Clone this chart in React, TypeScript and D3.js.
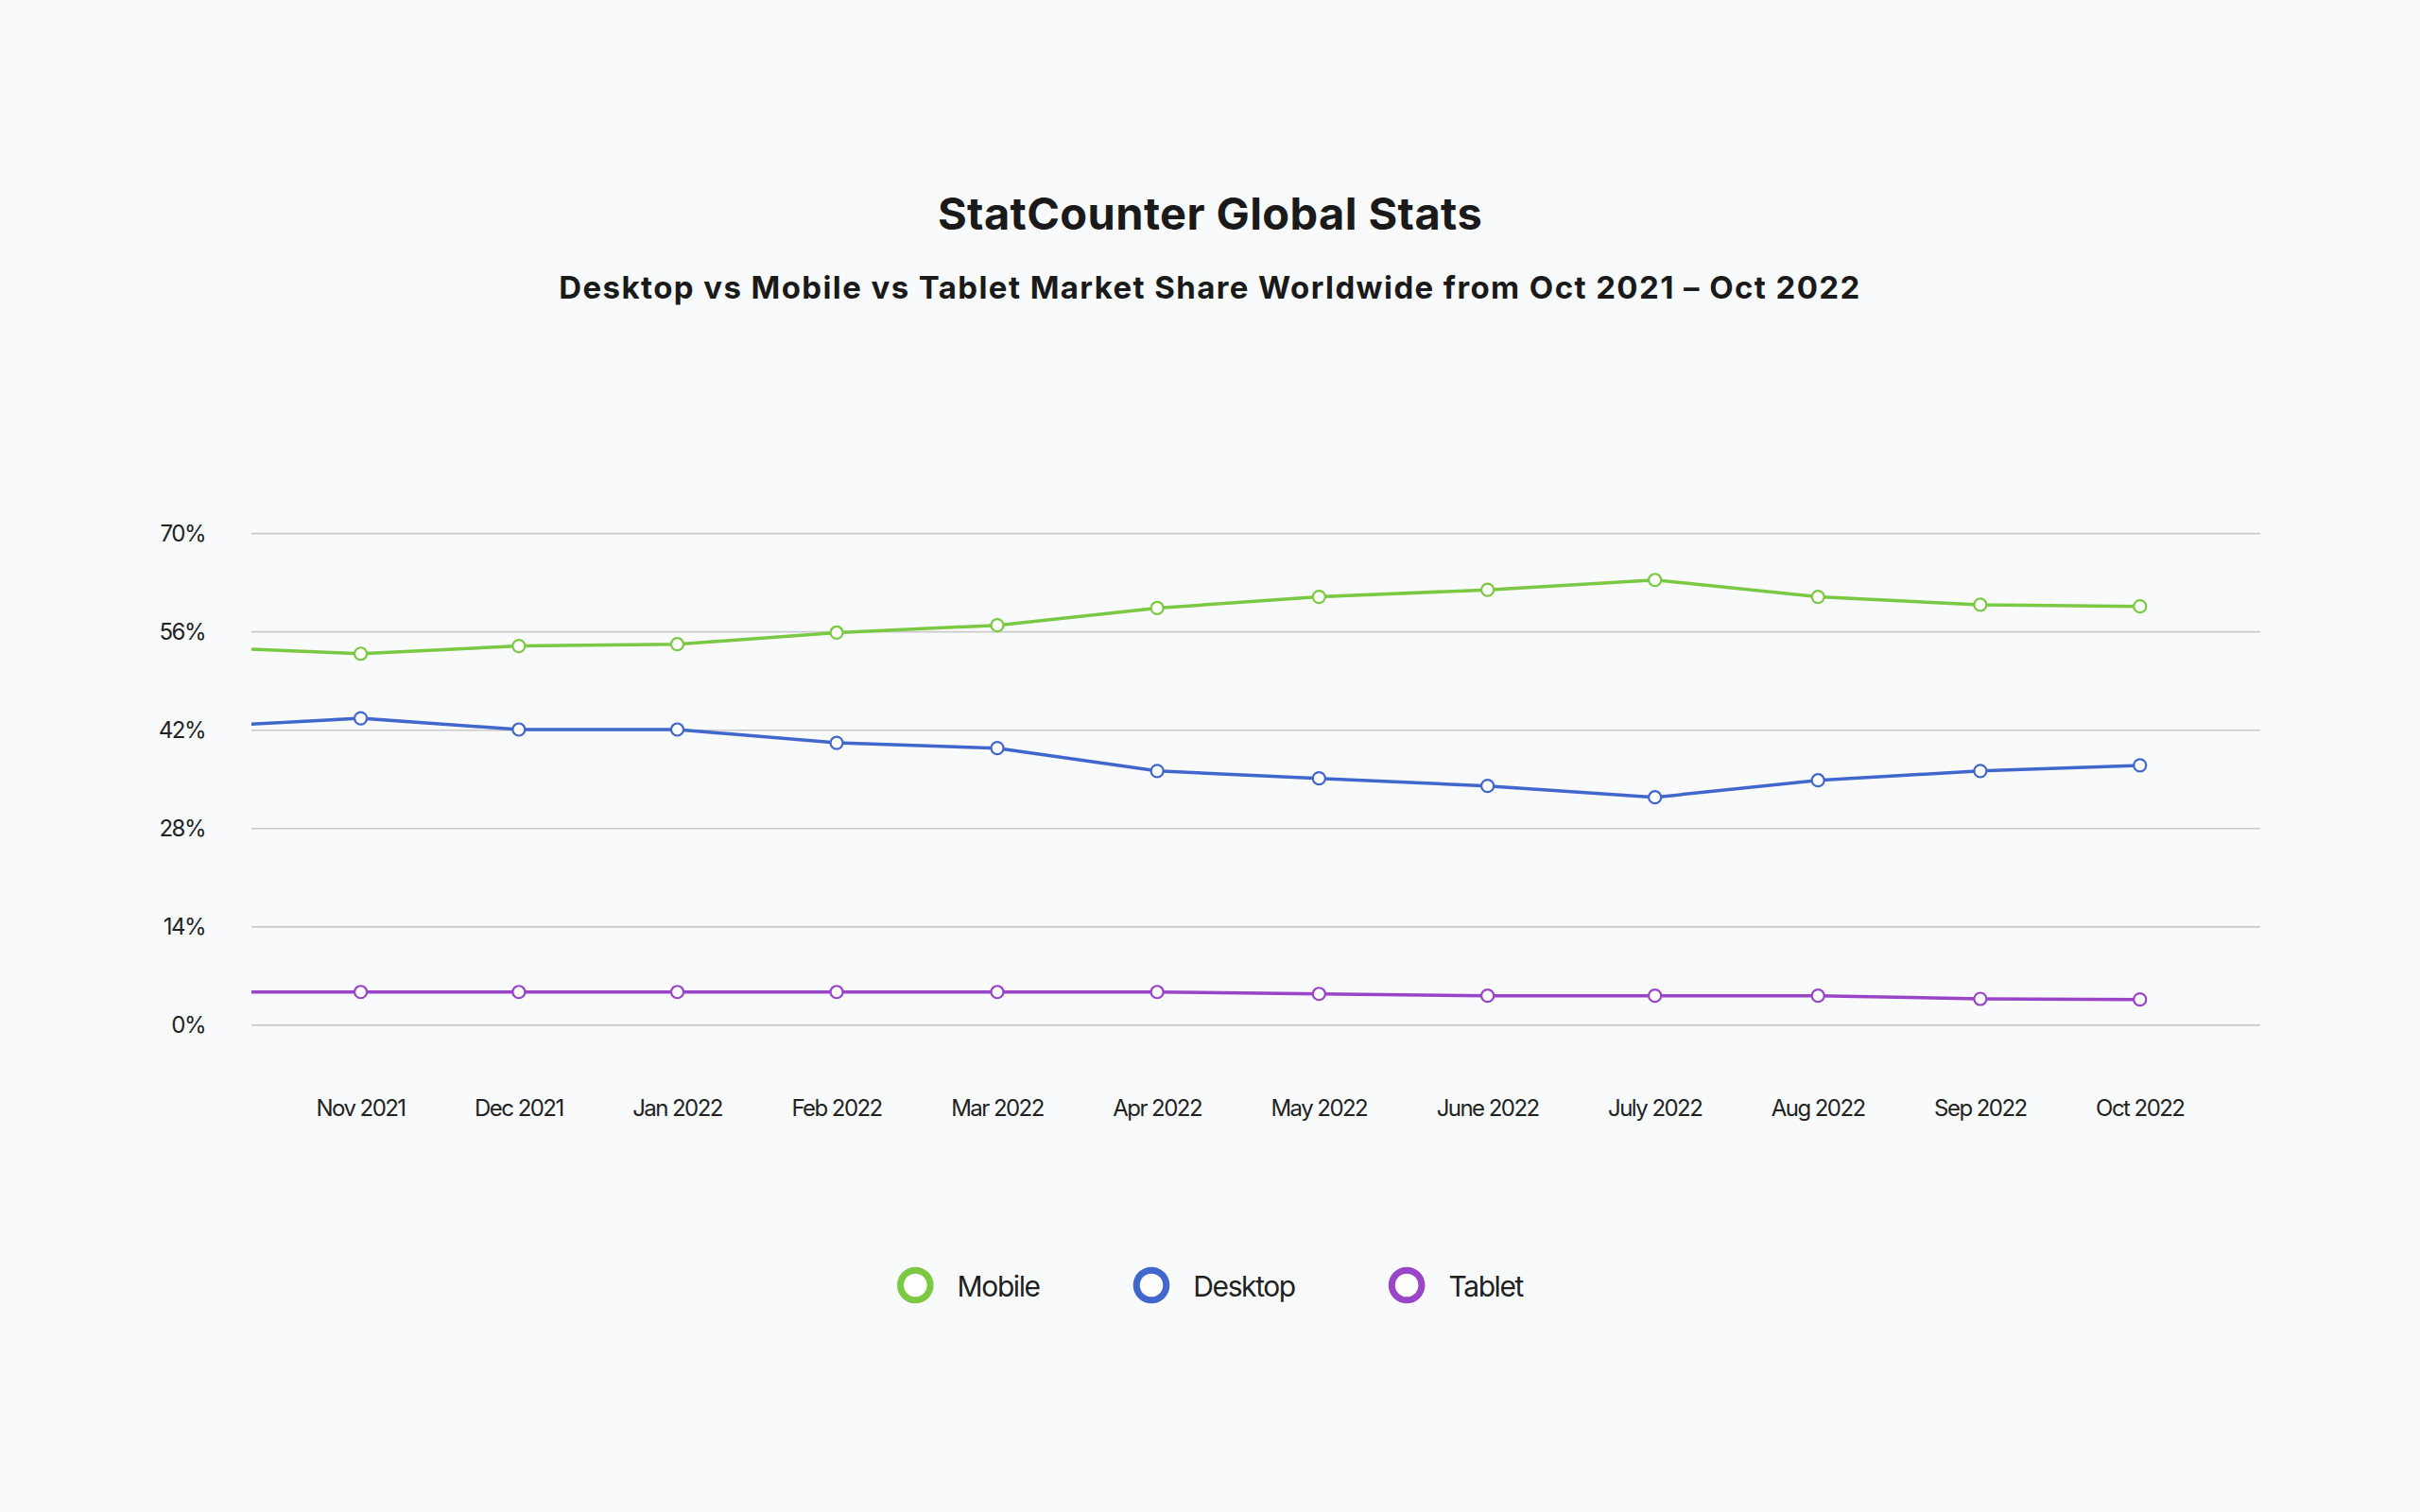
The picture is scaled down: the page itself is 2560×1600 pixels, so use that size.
import React, { useMemo } from "react";
import * as d3 from "d3";

const months = [
  "Oct 2021", "Nov 2021", "Dec 2021", "Jan 2022", "Feb 2022", "Mar 2022", "Apr 2022",
  "May 2022", "June 2022", "July 2022", "Aug 2022", "Sep 2022", "Oct 2022",
];
const mobile = [53.8, 52.9, 54.0, 54.25, 55.9, 56.95, 59.4, 61.0, 62.0, 63.4, 61.0, 59.87, 59.64];
const desktop = [42.5, 43.7, 42.1, 42.1, 40.2, 39.45, 36.2, 35.15, 34.07, 32.45, 34.87, 36.2, 37.0];
const tablet = [4.72, 4.72, 4.72, 4.72, 4.72, 4.72, 4.72, 4.45, 4.19, 4.19, 4.19, 3.74, 3.65];
const yTicks = [0, 14, 28, 42, 56, 70];
const seriesNames = ["Mobile", "Desktop", "Tablet"];
const seriesColors = ["#7BC843", "#4167CC", "#9945C8"];
const seriesValues = [mobile, desktop, tablet];

const W = 2560;
const H = 1600;
const FONT = "Inter, 'Noto Sans', sans-serif";
const margin = { left: 266, right: 2391, top: 564.7, bottom: 1084.8 };
const tickFont = 24;
const tickLS = -1.55;
const legendFontSize = 30;
const legendLS = -1.4;
const labelGap = 73.5;

function measure(text: string, font: string, ls: number): number {
  const c = document.createElement("canvas");
  const ctx = c.getContext("2d")!;
  ctx.font = font;
  return ctx.measureText(text).width + ls * text.length;
}

export default function App() {
  const xPos = useMemo(() => {
    const font = `${tickFont}px Inter`;
    const ws = months.map((m) => measure(m, font, tickLS));
    const vis = ws.slice(1);
    const total = d3.sum(vis) + labelGap * (vis.length - 1);
    const rowCenter = (margin.left + margin.right) / 2 - 6;
    let cursor = rowCenter - total / 2;
    const centers: number[] = [];
    vis.forEach((w) => {
      centers.push(cursor + w / 2);
      cursor += w + labelGap;
    });
    const first = centers[0] - (labelGap + (ws[0] + ws[1]) / 2);
    return [first, ...centers];
  }, []);

  const x = d3.scaleOrdinal<string, number>().domain(months).range(xPos);
  const y = d3.scaleLinear().domain([0, 70]).range([margin.bottom, margin.top]);

  const line = d3
    .line<number>()
    .x((_, i) => x(months[i]))
    .y((d) => y(d));

  const legendFont = `${legendFontSize}px Inter`;
  const legendWidths = seriesNames.map((n) => measure(n, legendFont, legendLS));
  const circleD = 38.6;
  const circleTextGap = 25;
  const itemGap = 99;
  const legendTotal =
    d3.sum(legendWidths) + seriesNames.length * (circleD + circleTextGap) + itemGap * (seriesNames.length - 1);
  let lx = W / 2 - legendTotal / 2;
  const legendItems = seriesNames.map((n, i) => {
    const item = { name: n, color: seriesColors[i], cx: lx + circleD / 2, tx: lx + circleD + circleTextGap };
    lx += circleD + circleTextGap + legendWidths[i] + itemGap;
    return item;
  });

  return (
    <svg
      width={W}
      height={H}
      style={{ position: "absolute", left: 0, top: 0, display: "block" }}
      fontFamily={FONT}
    >
      <rect x={0} y={0} width={W} height={H} fill="#F8FAFC" />
      <text x={1280} y={243} textAnchor="middle" fontSize={47} fontWeight={700} fill="#1a1a1a" letterSpacing={0.4}>
        StatCounter Global Stats
      </text>
      <text x={1280} y={316} textAnchor="middle" fontSize={33} fontWeight={700} fill="#1a1a1a" letterSpacing={1.4}>
        Desktop vs Mobile vs Tablet Market Share Worldwide from Oct 2021 – Oct 2022
      </text>

      <defs>
        <clipPath id="plotClip">
          <rect x={margin.left} y={0} width={margin.right - margin.left} height={H} />
        </clipPath>
      </defs>

      {yTicks.map((t) => (
        <g key={t}>
          <line x1={margin.left} x2={margin.right} y1={y(t)} y2={y(t)} stroke="#CACACC" strokeWidth={1.7} />
          <text x={217} y={y(t)} dy="0.34em" textAnchor="end" fontSize={tickFont} fill="#222" letterSpacing={-1.5}>
            {t}%
          </text>
        </g>
      ))}

      {months.slice(1).map((m) => (
        <text key={m} x={x(m)} y={1181} textAnchor="middle" fontSize={tickFont} fill="#222" letterSpacing={tickLS}>
          {m}
        </text>
      ))}

      <g clipPath="url(#plotClip)">
        {seriesValues.map((vals, si) => (
          <path
            key={seriesNames[si]}
            d={line(vals) || ""}
            fill="none"
            stroke={seriesColors[si]}
            strokeWidth={3.5}
            strokeLinejoin="round"
            strokeLinecap="round"
          />
        ))}
        {seriesValues.map((vals, si) =>
          vals.map((v, i) => (
            <circle
              key={`${si}-${i}`}
              cx={x(months[i])}
              cy={y(v)}
              r={6.5}
              fill="#fff"
              stroke={seriesColors[si]}
              strokeWidth={2.2}
            />
          ))
        )}
      </g>

      {legendItems.map((it) => (
        <g key={it.name}>
          <circle cx={it.cx} cy={1360} r={(circleD - 7) / 2} fill="#fff" stroke={it.color} strokeWidth={7} />
          <text x={it.tx} y={1371.7} fontSize={legendFontSize} fill="#1f1f1f" letterSpacing={legendLS}>
            {it.name}
          </text>
        </g>
      ))}
    </svg>
  );
}
